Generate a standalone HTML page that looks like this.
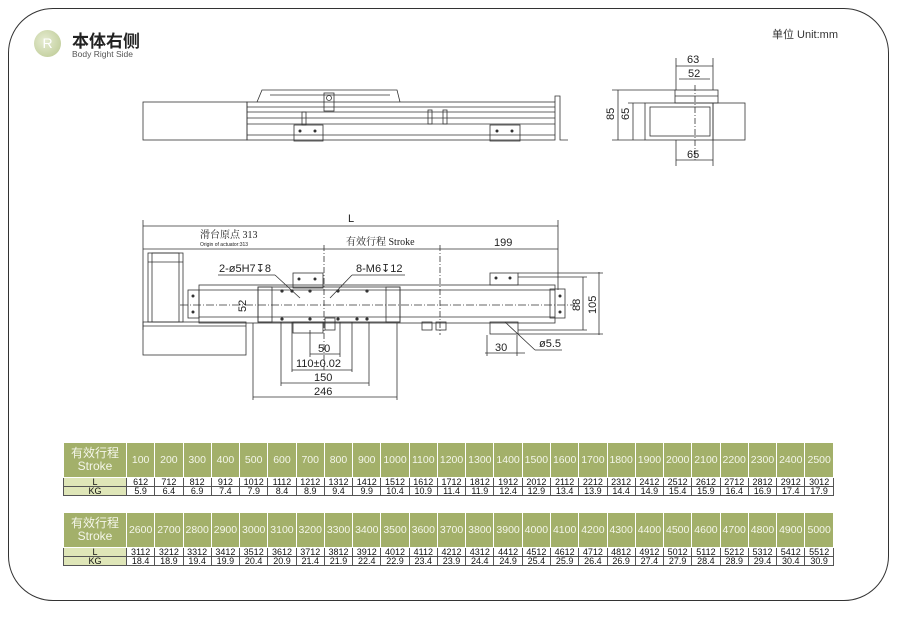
<!DOCTYPE html>
<html><head><meta charset="utf-8"><style>
body{margin:0;width:898px;height:617px;background:#fff;font-family:"Liberation Sans","Noto Sans CJK SC",sans-serif;position:relative;overflow:hidden}
.frame{position:absolute;left:8px;top:8px;width:881px;height:593px;border:1.3px solid #333;border-radius:45px;box-sizing:border-box}
.logo{position:absolute;left:34px;top:30px;width:27px;height:27px;border-radius:50%;background:radial-gradient(circle at 40% 40%,#e6ecd2,#b9c78f);color:#fff;font-size:14px;text-align:center;line-height:27px}
table{position:absolute;left:63px;border-collapse:collapse;font-size:9px;table-layout:fixed}
td{border:1px solid #555;text-align:center;padding:0;color:#111;line-height:8px;height:8px}
tr.h td{background:#a3b06a;color:#f4f6ea;font-size:10.5px;height:34px;border-color:#fff}
tr.h td.f{font-size:12px;line-height:13px}
td.f{width:62px;background:#dfe6b8}
tr.h td.f{background:#a3b06a}
</style></head><body>
<div class="frame"></div>
<div class="logo">R</div>
<div style="position:absolute;left:72px;top:27px;font-size:17px;color:#222;font-weight:bold">本体右侧</div>
<div style="position:absolute;left:72px;top:49px;font-size:8.5px;color:#555">Body Right Side</div>
<div style="position:absolute;left:772px;top:26px;font-size:11px;color:#333">单位 Unit:mm</div>
<svg width="898" height="617" style="position:absolute;left:0;top:0" fill="none" stroke="#333" stroke-width="0.8" font-family="Liberation Sans,Noto Sans CJK SC,sans-serif">
<!-- top view -->
<rect x="143" y="102" width="104" height="38"/>
<rect x="247" y="102" width="308" height="38"/>
<line x1="247" y1="107" x2="555" y2="107"/><line x1="247" y1="112" x2="555" y2="112"/><line x1="247" y1="118" x2="555" y2="118"/><line x1="247" y1="124" x2="555" y2="124"/><line x1="247" y1="135" x2="555" y2="135"/>
<path d="M257 102 L262 90 L397 90 L400 102"/><line x1="270" y1="95" x2="390" y2="95"/>
<rect x="324" y="93" width="10" height="18"/><circle cx="329" cy="98" r="2.5"/>
<rect x="294" y="125" width="29" height="16"/><rect x="490" y="125" width="30" height="16"/>
<rect x="302" y="112" width="4" height="13"/><rect x="428" y="110" width="4" height="14"/><rect x="443" y="110" width="4" height="14"/>
<path d="M555 102 L555 96 L560 96 L560 140 L568 140"/>
<g fill="#333" stroke="none"><circle cx="300" cy="131" r="1.5"/><circle cx="315" cy="131" r="1.5"/><circle cx="497" cy="131" r="1.5"/><circle cx="512" cy="131" r="1.5"/></g>
<!-- side view -->
<rect x="675" y="90" width="43" height="13"/><line x1="675" y1="96" x2="718" y2="96"/>
<rect x="645" y="103" width="68" height="37"/><rect x="650" y="107" width="60" height="29"/>
<rect x="713" y="103" width="32" height="37"/>
<line x1="695" y1="85" x2="695" y2="160" stroke-dasharray="6 2 1 2"/>
<line x1="676" y1="58" x2="676" y2="90"/><line x1="713" y1="58" x2="713" y2="90"/>
<line x1="676" y1="66" x2="713" y2="66"/><line x1="679" y1="79" x2="710" y2="79"/>
<line x1="676" y1="140" x2="676" y2="166"/><line x1="713" y1="140" x2="713" y2="166"/><line x1="676" y1="160" x2="713" y2="160"/>
<line x1="618" y1="90" x2="618" y2="140"/><line x1="633" y1="103" x2="633" y2="140"/>
<line x1="612" y1="90" x2="675" y2="90"/><line x1="612" y1="140" x2="645" y2="140"/><line x1="628" y1="103" x2="645" y2="103"/>
<g fill="#222" stroke="none" font-size="11"><text x="687" y="63">63</text><text x="688" y="77">52</text><text x="687" y="158">65</text>
<text transform="translate(614,120) rotate(-90)">85</text><text transform="translate(629,120) rotate(-90)">65</text></g>
<!-- main view -->
<line x1="143" y1="226" x2="558" y2="226"/><line x1="143" y1="220" x2="143" y2="330"/><line x1="558" y1="220" x2="558" y2="290"/>
<line x1="143" y1="249" x2="558" y2="249"/>
<line x1="324" y1="245" x2="324" y2="370" stroke-dasharray="6 2 1 2"/><line x1="440" y1="245" x2="440" y2="335" stroke-dasharray="6 2 1 2"/>
<rect x="148" y="253" width="35" height="69"/><rect x="152" y="253" width="27" height="69"/><line x1="148" y1="262" x2="183" y2="262"/>
<rect x="143" y="322" width="103" height="33"/><line x1="143" y1="326" x2="246" y2="326"/>
<rect x="199" y="285" width="356" height="38"/><line x1="199" y1="290" x2="555" y2="290"/><line x1="199" y1="317" x2="555" y2="317"/>
<rect x="188" y="290" width="11" height="28"/><rect x="550" y="289" width="15" height="29"/>
<rect x="258" y="287" width="142" height="35"/><rect x="258" y="287" width="14" height="35"/><rect x="386" y="287" width="14" height="35"/>
<rect x="293" y="273" width="30" height="15"/><rect x="490" y="273" width="28" height="12"/>
<rect x="293" y="322" width="30" height="11"/><rect x="490" y="322" width="28" height="12"/>
<rect x="325" y="318" width="10" height="12"/><rect x="422" y="322" width="10" height="8"/><rect x="436" y="322" width="10" height="8"/>
<line x1="180" y1="305" x2="575" y2="305" stroke-dasharray="8 2 1 2"/>
<g fill="#333" stroke="none"><circle cx="282" cy="291" r="1.6"/><circle cx="292" cy="291" r="1.6"/><circle cx="310" cy="291" r="1.6"/><circle cx="338" cy="291" r="1.6"/><circle cx="367" cy="291" r="1.6"/>
<circle cx="282" cy="319" r="1.6"/><circle cx="310" cy="319" r="1.6"/><circle cx="338" cy="319" r="1.6"/><circle cx="357" cy="319" r="1.6"/><circle cx="367" cy="319" r="1.6"/>
<circle cx="299" cy="279" r="1.5"/><circle cx="315" cy="279" r="1.5"/><circle cx="496" cy="278" r="1.5"/><circle cx="510" cy="278" r="1.5"/>
<circle cx="193" cy="296" r="1.5"/><circle cx="193" cy="312" r="1.5"/><circle cx="560" cy="296" r="1.5"/><circle cx="560" cy="312" r="1.5"/></g>
<line x1="218" y1="275" x2="275" y2="275"/><line x1="275" y1="275" x2="300" y2="298"/>
<line x1="352" y1="275" x2="405" y2="275"/><line x1="352" y1="275" x2="330" y2="298"/>
<line x1="253" y1="323" x2="253" y2="400"/><line x1="397" y1="323" x2="397" y2="400"/><line x1="253" y1="397" x2="397" y2="397"/>
<line x1="281" y1="322" x2="281" y2="386"/><line x1="369" y1="322" x2="369" y2="386"/><line x1="281" y1="383" x2="369" y2="383"/>
<line x1="292" y1="322" x2="292" y2="372"/><line x1="352" y1="322" x2="352" y2="372"/><line x1="292" y1="370" x2="352" y2="370"/>
<line x1="340" y1="322" x2="340" y2="357"/><line x1="310" y1="330" x2="310" y2="357"/><line x1="310" y1="354" x2="340" y2="354"/>
<line x1="487" y1="335" x2="487" y2="356"/><line x1="517" y1="335" x2="517" y2="356"/><line x1="485" y1="353" x2="525" y2="353"/>
<line x1="505" y1="322" x2="535" y2="350"/><line x1="535" y1="350" x2="562" y2="350"/>
<line x1="583" y1="277" x2="583" y2="330"/><line x1="599" y1="272" x2="599" y2="335"/>
<line x1="518" y1="273" x2="603" y2="273"/><line x1="518" y1="277" x2="587" y2="277"/><line x1="518" y1="334" x2="603" y2="334"/><line x1="518" y1="330" x2="587" y2="330"/>
<g fill="#222" stroke="none" font-size="11">
<text x="348" y="222">L</text>
<text x="200" y="238" font-family="Liberation Serif,Noto Serif CJK SC,serif" font-size="10">滑台原点 313</text>
<text x="200" y="246" font-size="5">Origin of actuator:313</text>
<text x="346" y="245" font-family="Liberation Serif,Noto Serif CJK SC,serif" font-size="10">有效行程 Stroke</text>
<text x="494" y="246">199</text>
<text x="219" y="272">2-ø5H7↧8</text><text x="356" y="272">8-M6↧12</text>
<text x="318" y="352">50</text><text x="296" y="367">110±0.02</text><text x="314" y="381">150</text><text x="314" y="395">246</text>
<text x="495" y="351">30</text><text x="539" y="347">ø5.5</text>
<text transform="translate(246,312) rotate(-90)">52</text>
<text transform="translate(580,311) rotate(-90)">88</text><text transform="translate(596,314) rotate(-90)">105</text>
</g>
</svg>
<table style="top:442px;width:771px">
<tr class="h"><td class="f">有效行程<br>Stroke</td><td>100</td><td>200</td><td>300</td><td>400</td><td>500</td><td>600</td><td>700</td><td>800</td><td>900</td><td>1000</td><td>1100</td><td>1200</td><td>1300</td><td>1400</td><td>1500</td><td>1600</td><td>1700</td><td>1800</td><td>1900</td><td>2000</td><td>2100</td><td>2200</td><td>2300</td><td>2400</td><td>2500</td></tr>
<tr><td class="f">L</td><td>612</td><td>712</td><td>812</td><td>912</td><td>1012</td><td>1112</td><td>1212</td><td>1312</td><td>1412</td><td>1512</td><td>1612</td><td>1712</td><td>1812</td><td>1912</td><td>2012</td><td>2112</td><td>2212</td><td>2312</td><td>2412</td><td>2512</td><td>2612</td><td>2712</td><td>2812</td><td>2912</td><td>3012</td></tr>
<tr><td class="f">KG</td><td>5.9</td><td>6.4</td><td>6.9</td><td>7.4</td><td>7.9</td><td>8.4</td><td>8.9</td><td>9.4</td><td>9.9</td><td>10.4</td><td>10.9</td><td>11.4</td><td>11.9</td><td>12.4</td><td>12.9</td><td>13.4</td><td>13.9</td><td>14.4</td><td>14.9</td><td>15.4</td><td>15.9</td><td>16.4</td><td>16.9</td><td>17.4</td><td>17.9</td></tr>
</table>
<table style="top:512px;width:771px">
<tr class="h"><td class="f">有效行程<br>Stroke</td><td>2600</td><td>2700</td><td>2800</td><td>2900</td><td>3000</td><td>3100</td><td>3200</td><td>3300</td><td>3400</td><td>3500</td><td>3600</td><td>3700</td><td>3800</td><td>3900</td><td>4000</td><td>4100</td><td>4200</td><td>4300</td><td>4400</td><td>4500</td><td>4600</td><td>4700</td><td>4800</td><td>4900</td><td>5000</td></tr>
<tr><td class="f">L</td><td>3112</td><td>3212</td><td>3312</td><td>3412</td><td>3512</td><td>3612</td><td>3712</td><td>3812</td><td>3912</td><td>4012</td><td>4112</td><td>4212</td><td>4312</td><td>4412</td><td>4512</td><td>4612</td><td>4712</td><td>4812</td><td>4912</td><td>5012</td><td>5112</td><td>5212</td><td>5312</td><td>5412</td><td>5512</td></tr>
<tr><td class="f">KG</td><td>18.4</td><td>18.9</td><td>19.4</td><td>19.9</td><td>20.4</td><td>20.9</td><td>21.4</td><td>21.9</td><td>22.4</td><td>22.9</td><td>23.4</td><td>23.9</td><td>24.4</td><td>24.9</td><td>25.4</td><td>25.9</td><td>26.4</td><td>26.9</td><td>27.4</td><td>27.9</td><td>28.4</td><td>28.9</td><td>29.4</td><td>30.4</td><td>30.9</td></tr>
</table>
</body></html>
